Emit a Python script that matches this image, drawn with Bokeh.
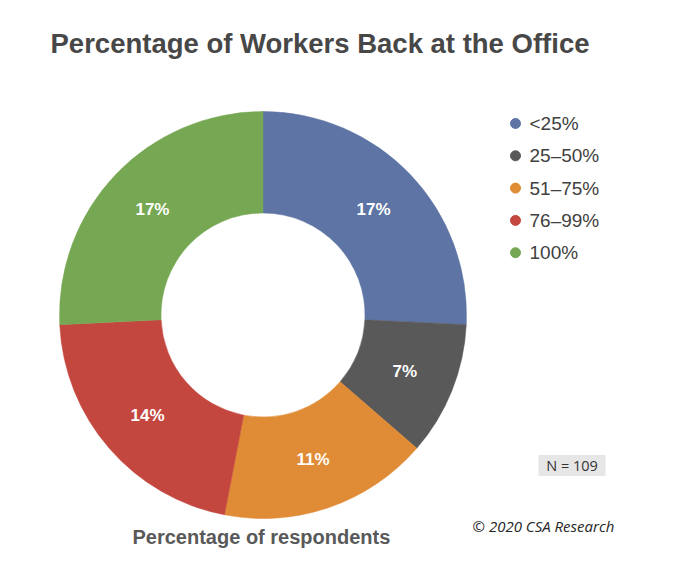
import numpy as np
from bokeh.plotting import figure
from bokeh.models import Range1d, ColumnDataSource
from bokeh.core.properties import value
from bokeh.embed import file_html
from bokeh.resources import INLINE

# ---- data ----
categories = ["<25%", "25\u201350%", "51\u201375%", "76\u201399%", "100%"]
percents = [17, 7, 11, 14, 17]
colors = ["#5E74A5", "#595959", "#E08B35", "#C4473F", "#76A854"]
title_text = "Percentage of Workers Back at the Office"
subtitle_text = "Percentage of respondents"
n_text = "N = 109"
credit_text = "\u00a9 2020 CSA Research"

W, H = 664, 560
p = figure(width=W, height=H, output_backend="svg", toolbar_location=None,
           x_range=Range1d(0, W), y_range=Range1d(0, H), min_border=0)
p.axis.visible = False
p.grid.visible = False
p.outline_line_color = None
p.background_fill_color = "white"
p.border_fill_color = "white"

# donut geometry (pixels)
cx, cy = 262.5, 245.5
r_out, r_in = 203.5, 102

vals = np.array(percents, dtype=float)
frac = vals / vals.sum()
cum = np.concatenate([[0], np.cumsum(frac)]) * 360.0
start = 90 - cum[:-1]
end = 90 - cum[1:]
mid = np.radians((start + end) / 2)
r_mid = (r_out + r_in) / 2

src = ColumnDataSource(dict(
    x=[cx] * len(vals), y=[cy] * len(vals),
    start=start, end=end, color=colors,
    lx=cx + r_mid * np.cos(mid), ly=cy + r_mid * np.sin(mid),
    label=[f"{v}%" for v in percents],
))
p.annular_wedge(x="x", y="y", inner_radius=r_in, outer_radius=r_out,
                inner_radius_units="screen", outer_radius_units="screen",
                start_angle="start", end_angle="end",
                start_angle_units="deg", end_angle_units="deg",
                direction="clock", fill_color="color", line_color="color",
                line_width=0.5, source=src)
p.text(x="lx", y="ly", text="label", source=src, text_color="white",
       text_font=value("Liberation Sans"), text_font_style="bold",
       text_font_size="17px", text_align="center", text_baseline="middle")

# legend
ly0 = 560 - 123
step = 32.3
leg_y = [ly0 - i * step for i in range(len(categories))]
leg = ColumnDataSource(dict(x=[515] * len(categories), tx=[529] * len(categories),
                            y=leg_y, label=categories, color=colors))
p.scatter(x="x", y="y", source=leg, size=10, marker="circle",
          fill_color="color", line_color="color")
p.text(x="tx", y="y", text="label", source=leg, text_color="#404040",
       text_font=value("Liberation Sans"), text_font_size="19px",
       text_baseline="middle")

# title
p.text(x=[50], y=[517], text=[title_text], text_color="#474747",
       text_font=value("Liberation Sans"), text_font_style="bold",
       text_font_size="27.5px", text_baseline="middle")

# subtitle under chart
p.text(x=[132], y=[24], text=[subtitle_text], text_color="#595959",
       text_font=value("Liberation Sans"), text_font_style="bold",
       text_font_size="20px", text_baseline="middle")

# N box
p.rect(x=[571.5], y=[95], width=67, height=21, width_units="screen",
       height_units="screen", fill_color="#E7E6E6", line_color=None)
p.text(x=[571.5], y=[95], text=[n_text], text_color="#333333",
       text_font=value("Open Sans"), text_font_size="14.5px",
       text_align="center", text_baseline="middle")

# credit
p.text(x=[472], y=[35], text=[credit_text], text_color="#262626",
       text_font=value("Open Sans"), text_font_style="italic",
       text_font_size="15px", text_baseline="middle")

open("out.html", "w").write(file_html(p, INLINE))
